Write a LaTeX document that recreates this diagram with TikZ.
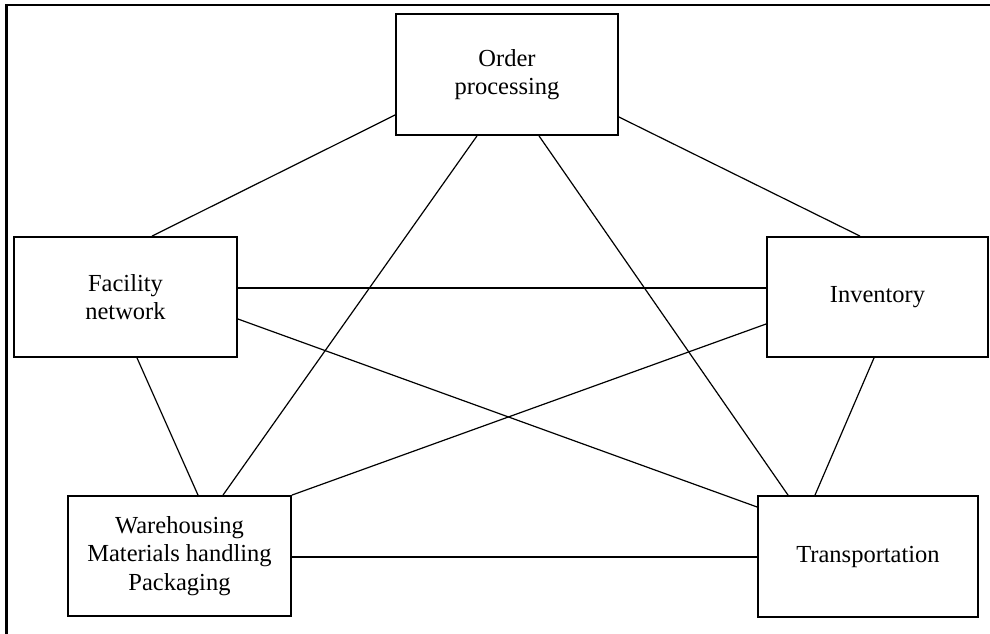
\documentclass[tikz,border=0pt]{standalone}
\usepackage{fontspec}
\setmainfont{Liberation Serif}
\begin{document}
\begin{tikzpicture}[x=1pt,y=1pt,
  block/.style={draw, line width=1.8pt, rectangle, align=center, inner sep=0pt,
    font=\fontsize{24.5}{28.5}\selectfont},
  link/.style={line width=1.2pt}]
\useasboundingbox (0,0) rectangle (990,634);
% outer frame (top and left edges)
\draw[line width=2.4pt] (6.5,-10) -- (6.5,629) -- (1000,629);

% the five activity boxes
\node[block, minimum width=222pt, minimum height=121pt] (order) at (507,559.5) {Order\\processing};
\node[block, minimum width=223pt, minimum height=120pt] (fac) at (125.5,337) {Facility\\network};
\node[block, minimum width=221pt, minimum height=120pt] (inv) at (877.5,337) {Inventory};
\node[block, minimum width=223pt, minimum height=120pt] (ware) at (179.5,78) {Warehousing\\Materials handling\\Packaging};
\node[block, minimum width=220pt, minimum height=121pt] (trans) at (868,77.5) {Transportation};

% every pair of activities is linked
\draw[link] ([yshift=-40.5pt]order.west) -- ([xshift=26.5pt]fac.north);
\draw[link] ([yshift=-42.5pt]order.east) -- ([xshift=-17.5pt]inv.north);
\draw[link] ([xshift=-30pt]order.south) -- ([xshift=43.5pt]ware.north);
\draw[link] ([xshift=32pt]order.south) -- ([xshift=-80pt]trans.north);
\draw[link] ([yshift=9pt]fac.east) -- ([yshift=9pt]inv.west);
\draw[link] ([yshift=-22pt]fac.east) -- ([yshift=49.5pt]trans.west);
\draw[link] ([xshift=11.5pt]fac.south) -- ([xshift=18.5pt]ware.north);
\draw[link] ([yshift=-27pt]inv.west) -- (ware.north east);
\draw[link] ([xshift=-3.5pt]inv.south) -- ([xshift=-53pt]trans.north);
\draw[link] ([yshift=-1pt]ware.east) -- ([yshift=-0.5pt]trans.west);
\end{tikzpicture}
\end{document}
